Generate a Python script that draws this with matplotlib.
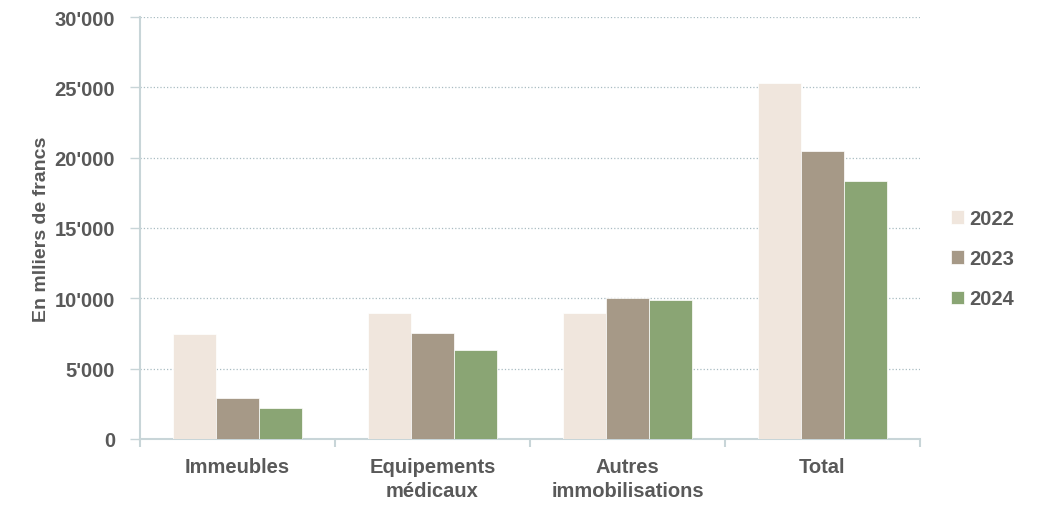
import numpy as np
import matplotlib.pyplot as plt
from matplotlib.ticker import FuncFormatter

categories = ['Immeubles', 'Equipements\nmédicaux', 'Autres\nimmobilisations', 'Total']
years = ['2022', '2023', '2024']
v2022 = [7460, 8950, 8950, 25300]
v2023 = [2910, 7530, 10020, 20470]
v2024 = [2200, 6330, 9880, 18340]
colors = ['#f0e6dd', '#a69987', '#8aa574']

plt.rcParams['font.family'] = ['Liberation Sans', 'DejaVu Sans']
plt.rcParams['font.weight'] = 'bold'
txt = '#595959'
axc = '#c8d5d8'

fig = plt.figure(figsize=(10.43, 5.10), dpi=100)
ax = fig.add_axes([0.1342, 0.1373, 0.7478, 0.8274])

x = np.arange(len(categories))
w = 0.22
for i, (vals, yr) in enumerate(zip([v2022, v2023, v2024], years)):
    ax.bar(x + (i - 1) * w, vals, w, color=colors[i], label=yr,
           edgecolor='white', linewidth=0.5, zorder=3)

ax.set_xlim(-0.5, len(categories) - 0.5)
ax.set_ylim(0, 30000)
ax.set_yticks(np.arange(0, 30001, 5000))
ax.yaxis.set_major_formatter(FuncFormatter(lambda v, p: f"{int(v):,}".replace(',', "'")))
ax.set_xticks(x)
ax.set_xticklabels(categories, fontsize=14.5, color=txt, linespacing=1.3)
ax.set_xticks(np.arange(-0.5, len(categories)), minor=True)
ax.tick_params(axis='x', which='major', length=0, pad=13)
ax.tick_params(axis='x', which='minor', length=6, color=axc, width=1.5)
ax.tick_params(axis='y', length=7, color=axc, width=1, labelsize=14.5, labelcolor=txt, pad=11)

ax.grid(axis='y', linestyle=':', color='#a9bcc2', linewidth=0.9, zorder=0)
for s in ['top', 'right']:
    ax.spines[s].set_visible(False)
ax.spines['left'].set_color(axc)
ax.spines['bottom'].set_color(axc)
ax.spines['left'].set_linewidth(1.5)
ax.spines['bottom'].set_linewidth(1.5)

ax.set_ylabel('En mlliers de francs', fontsize=14, color=txt, fontweight='bold', labelpad=3)

leg = ax.legend(loc='center left', bbox_to_anchor=(1.016, 0.427), frameon=False,
                fontsize=14.5, handlelength=0.65, handleheight=0.65,
                handletextpad=0.3, labelspacing=1.05)
for t in leg.get_texts():
    t.set_color(txt)

fig.savefig('out.png', dpi=100)
